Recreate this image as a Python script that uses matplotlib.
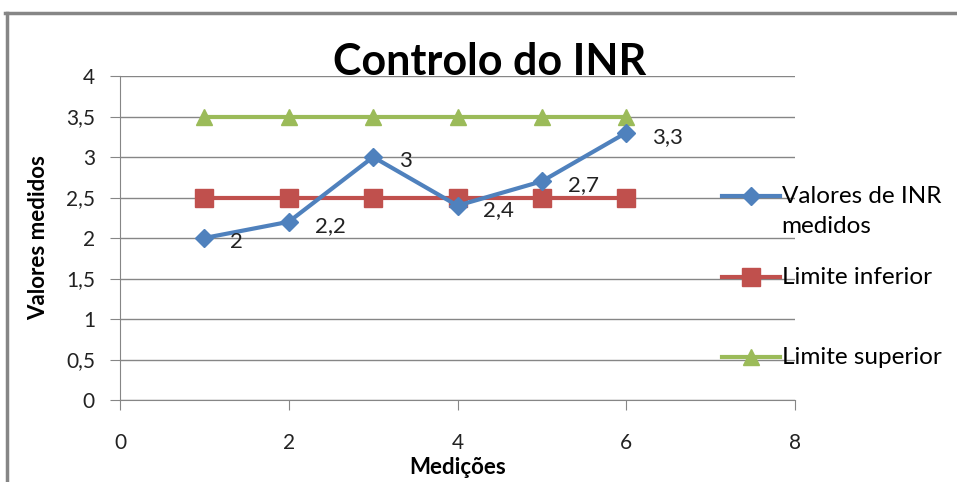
import numpy as np
import matplotlib
matplotlib.use("Agg")
import matplotlib.pyplot as plt
from matplotlib.lines import Line2D

plt.rcParams['font.family'] = ['Lato', 'DejaVu Sans']

medicoes = [1, 2, 3, 4, 5, 6]
inr = [2, 2.2, 3, 2.4, 2.7, 3.3]
inr_labels = ["2", "2,2", "3", "2,4", "2,7", "3,3"]
lim_inf = [2.5, 2.5, 2.5, 2.5, 2.5, 2.5]
lim_sup = [3.5, 3.5, 3.5, 3.5, 3.5, 3.5]
yticks = [0, 0.5, 1, 1.5, 2, 2.5, 3, 3.5, 4]
ytick_labels = ["0", "0,5", "1", "1,5", "2", "2,5", "3", "3,5", "4"]
xticks = [0, 2, 4, 6, 8]

W, H = 957, 482
fig = plt.figure(figsize=(W/100, H/100), dpi=100)
ax = fig.add_axes([120/W, 1-400/H, 675/W, 324/H])

blue, red, green = "#4F81BD", "#C0504D", "#9BBB59"
gray = "#868686"

ax.plot(medicoes, inr, "-", color=blue, lw=3, marker="D", ms=9, label="Valores de INR\nmedidos", zorder=4)
ax.plot(medicoes, lim_inf, "-", color=red, lw=3, marker="s", ms=13, label="Limite inferior\n", zorder=3)
ax.plot(medicoes, lim_sup, "-", color=green, lw=3, marker="^", ms=11.5, label="Limite superior\n", zorder=3)

for x, y, t in zip(medicoes, inr, inr_labels):
    ax.annotate(t, (x, y), xytext=(26, -4), textcoords="offset pixels",
                ha="left", va="center", fontsize=16, color="#222222", zorder=5)

ax.set_xlim(0, 8)
ax.set_ylim(0, 4)
ax.set_xticks(xticks)
ax.set_yticks(yticks)
ax.set_yticklabels(ytick_labels)
ax.grid(axis="y", color=gray, lw=1)
ax.set_axisbelow(True)
for s in ["top", "right"]:
    ax.spines[s].set_visible(False)
for s in ["left", "bottom"]:
    ax.spines[s].set_color(gray)
ax.tick_params(axis="both", colors=gray, labelcolor="#222222", labelsize=15, length=7, direction="out")
ax.tick_params(axis="x", pad=17)
ax.tick_params(axis="y", pad=11)

ax.set_xlabel("Medições", fontsize=16, fontweight="bold", labelpad=3)
ax.set_ylabel("Valores medidos", fontsize=16, fontweight="bold", labelpad=12)
fig.text(490/W, 1-62/H, "Controlo do INR", ha="center", va="center", fontsize=31, fontweight="bold")

leg = ax.legend(loc="upper left", bbox_to_anchor=(722/W, 1-186/H), bbox_transform=fig.transFigure,
                frameon=False, fontsize=17.5, handlelength=2.4, handleheight=1.2, handletextpad=0.05,
                labelspacing=1.2, borderpad=0, borderaxespad=0)
for t in leg.get_texts():
    t.set_linespacing(1.55)
# first text line next to the marker, like Excel does
for col in leg._legend_handle_box.get_children():
    for hp in col.get_children():
        hp.align = "top"

fig.add_artist(Line2D([5/W, 1], [1-13/H, 1-13/H], color=gray, lw=2.5))
fig.add_artist(Line2D([7/W, 7/W], [0, 1-13/H], color=gray, lw=2.5))

fig.savefig("out.png", dpi=100)
